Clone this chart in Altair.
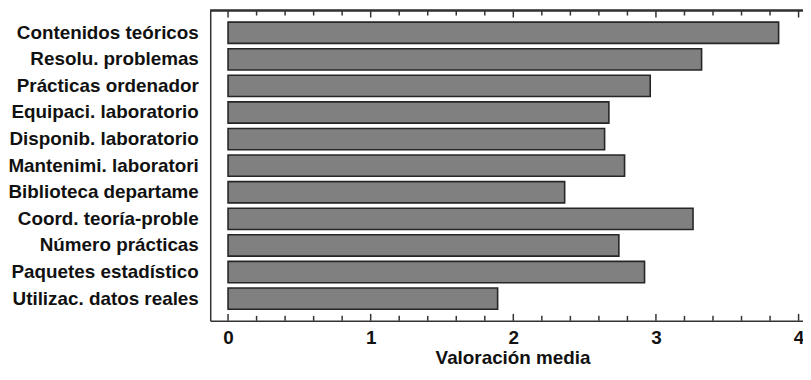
import altair as alt
import pandas as pd

categories = [
    "Contenidos teóricos",
    "Resolu. problemas",
    "Prácticas ordenador",
    "Equipaci. laboratorio",
    "Disponib. laboratorio",
    "Mantenimi. laboratori",
    "Biblioteca departame",
    "Coord. teoría-proble",
    "Número prácticas",
    "Paquetes estadístico",
    "Utilizac. datos reales",
]
values = [3.86, 3.32, 2.96, 2.67, 2.64, 2.78, 2.36, 3.26, 2.74, 2.92, 1.89]
major_ticks = [0, 1, 2, 3, 4]
minor_ticks = [0.2, 0.4, 0.6, 0.8, 1.2, 1.4, 1.6, 1.8, 2.2, 2.4, 2.6,
               2.8, 3.2, 3.4, 3.6, 3.8]

df = pd.DataFrame({"cat": categories, "val": values})
df_major = pd.DataFrame({"t": major_ticks})
df_minor = pd.DataFrame({"t": minor_ticks})

W, H = 598, 313
FONT = "Liberation Sans"
LINE = "#333333"
FS = 19
xscale = alt.Scale(domain=[-0.125, 4.031], nice=False, zero=False)

bars = alt.Chart(df).mark_bar(fill="#808080", stroke="#262626", strokeWidth=1.6).encode(
    x=alt.X(
        "val:Q",
        scale=xscale,
        axis=alt.Axis(
            orient="bottom", values=major_ticks, format="d", ticks=False, tickSize=0,
            grid=False, domain=True, domainColor=LINE, domainWidth=1.5,
            labelFont=FONT, labelFontSize=FS, labelFontWeight="bold", labelColor="#111111",
            labelPadding=8, labelFlush=False,
            title="Valoración media", titleFont=FONT, titleFontSize=FS,
            titleFontWeight="bold", titleColor="#111111",
            titleX=305, titleY=43, titleBaseline="alphabetic", titleAlign="center",
        ),
    ),
    y=alt.Y(
        "cat:N",
        sort=categories,
        scale=alt.Scale(paddingInner=0.2, paddingOuter=0.435),
        axis=alt.Axis(
            title=None, ticks=False, tickSize=0, grid=False, domain=True,
            domainColor=LINE, domainWidth=1.5,
            labelFont=FONT, labelFontSize=FS, labelFontWeight="bold", labelColor="#111111",
            labelPadding=12, labelLimit=300,
        ),
    ),
)


def ticks(data, y0, y1):
    return alt.Chart(data).mark_rule(color=LINE, strokeWidth=1.5).encode(
        x=alt.X("t:Q", scale=xscale, axis=None),
        y=alt.value(y0),
        y2=alt.value(y1),
    )


top_line = alt.Chart(df_major).mark_rule(color=LINE, strokeWidth=1.5).encode(
    x=alt.value(0), x2=alt.value(W), y=alt.value(0)
)

chart = (
    alt.layer(
        bars,
        top_line,
        ticks(df_major, 0, 7),
        ticks(df_minor, 0, 5),
        ticks(df_major, H, H - 7),
        ticks(df_minor, H, H - 5),
    )
    .resolve_axis(x="independent")
    .properties(
        width=W,
        height=H,
        padding={"left": 204, "top": 1, "right": 0, "bottom": 46},
        autosize="none",
        background="white",
    )
    .configure_view(stroke=None)
)

chart.save("out.html", embed_options={"renderer": "svg", "actions": False})
